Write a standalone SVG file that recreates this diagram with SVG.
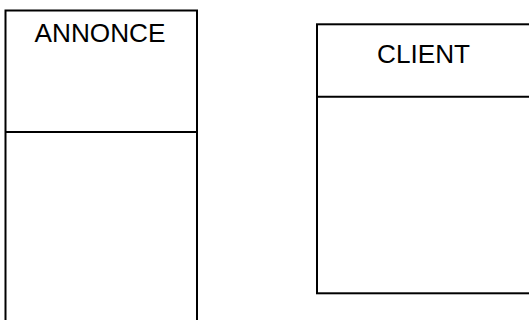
<svg xmlns="http://www.w3.org/2000/svg" width="529" height="320" viewBox="0 0 529 320">
<style>
.box{fill:#fff;stroke:#000;stroke-width:2}
.div{stroke:#000;stroke-width:2}
.t{font-family:"Liberation Sans",Arial,sans-serif;font-size:25px;fill:#000;text-anchor:middle}
</style>
<rect width="529" height="320" fill="#fff"/>
<g id="annonce">
<rect class="box" x="5.5" y="10.5" width="191.5" height="330"/>
<line class="div" x1="5.5" y1="132" x2="197" y2="132"/>
<text class="t" x="100" y="42" textLength="131" lengthAdjust="spacingAndGlyphs">ANNONCE</text>
</g>
<g id="client">
<rect class="box" x="317" y="24.3" width="240" height="269"/>
<line class="div" x1="317" y1="96.7" x2="557" y2="96.7"/>
<text class="t" x="423.5" y="63" textLength="93" lengthAdjust="spacingAndGlyphs">CLIENT</text>
</g>
<g id="connectors"/>
</svg>
